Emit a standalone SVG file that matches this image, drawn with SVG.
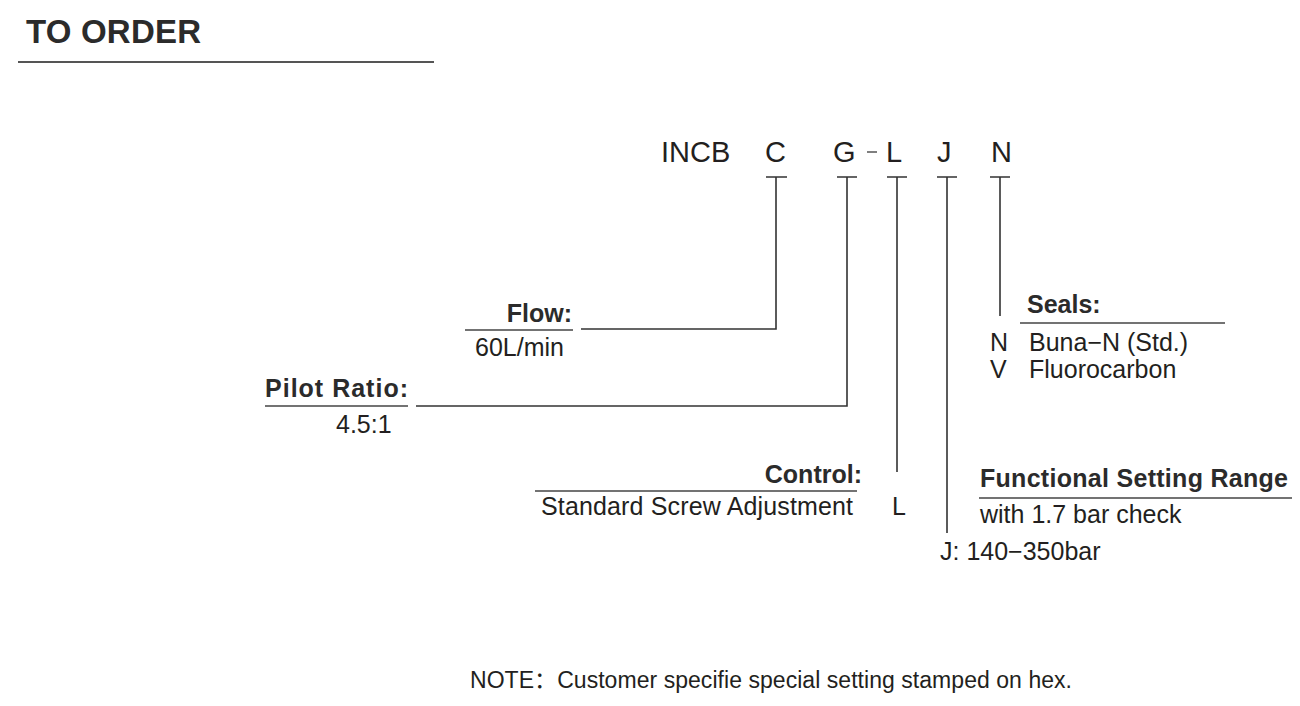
<svg xmlns="http://www.w3.org/2000/svg" width="1300" height="706" viewBox="0 0 1300 706">
<style>
text{font-family:"Liberation Sans","Noto Sans CJK SC",Arial,sans-serif;fill:#231f20}
.t{font-size:25px}
.b{font-size:25px;font-weight:bold;fill:#2b2b2b}
.code{font-size:29px}
.title{font-size:33px;font-weight:bold;fill:#2b2b2b}
.ln{stroke:#333;stroke-width:1.6;fill:none}
.ul{stroke:#444;stroke-width:1.6;fill:none}
</style>
<rect width="1300" height="706" fill="#fff"/>
<g id="title">
<text class="title" x="26" y="43" textLength="175">TO ORDER</text>
<line x1="18" y1="62" x2="434" y2="62" stroke="#555" stroke-width="2"/>
</g>
<g id="code">
<text class="code" x="661" y="162">INCB</text>
<text class="code" x="765" y="162">C</text>
<text class="code" x="833" y="162">G</text>
<line x1="867" y1="152" x2="877" y2="152" stroke="#555" stroke-width="1.5"/>
<text class="code" x="886" y="162">L</text>
<text class="code" x="937" y="162">J</text>
<text class="code" x="991" y="162">N</text>
</g>
<g id="connectors">
<path class="ln" d="M766 177H787M776 177V329H581"/>
<path class="ln" d="M837 177H857M847 177V406H416"/>
<path class="ln" d="M887 177H907M897 177V472"/>
<path class="ln" d="M937 177H957M947 177V533"/>
<path class="ln" d="M990 177H1010M1000 177V316"/>
</g>
<g id="flow">
<text class="b" x="572" y="322" text-anchor="end">Flow:</text>
<line class="ul" x1="465" y1="330" x2="573" y2="330"/>
<text class="t" x="475" y="356">60L/min</text>
</g>
<g id="pilot">
<text class="b" x="265" y="397" textLength="143">Pilot Ratio:</text>
<line class="ul" x1="265" y1="406" x2="408" y2="406"/>
<text class="t" x="336" y="433">4.5:1</text>
</g>
<g id="control">
<text class="b" x="862" y="483" text-anchor="end">Control:</text>
<line class="ul" x1="535" y1="491" x2="857" y2="491"/>
<text class="t" x="541" y="515" textLength="312">Standard Screw Adjustment</text>
<text class="t" x="892" y="515">L</text>
</g>
<g id="seals">
<text class="b" x="1027" y="313">Seals:</text>
<line class="ul" x1="1020" y1="323" x2="1225" y2="323"/>
<text class="t" x="990" y="351">N</text>
<text class="t" x="1029" y="351">Buna−N (Std.)</text>
<text class="t" x="990" y="378">V</text>
<text class="t" x="1029" y="378">Fluorocarbon</text>
</g>
<g id="range">
<text class="b" x="980" y="487" textLength="308">Functional Setting Range</text>
<line class="ul" x1="979" y1="498" x2="1292" y2="498"/>
<text class="t" x="980" y="523">with 1.7 bar check</text>
<text class="t" x="940" y="560">J: 140−350bar</text>
</g>
<g id="note">
<text x="470" y="688" style="font-size:23px" textLength="602">NOTE：Customer specifie special setting stamped on hex.</text>
</g>
</svg>
